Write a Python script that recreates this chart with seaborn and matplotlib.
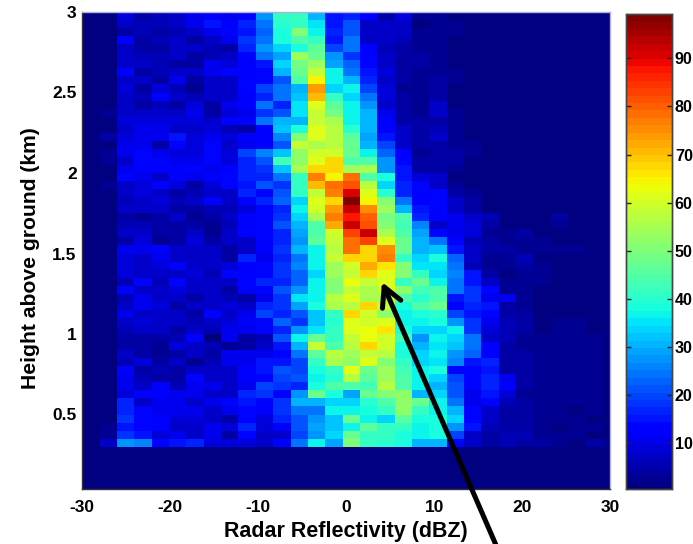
import numpy as np
import pandas as pd
import matplotlib
matplotlib.use("Agg")
import matplotlib.pyplot as plt
import seaborn as sns

x_tick_labels = [-30, -20, -10, 0, 10, 20, 30]
y_tick_labels = [0.5, 1, 1.5, 2, 2.5, 3]
colorbar_ticks = [10, 20, 30, 40, 50, 60, 70, 80, 90]
x_label = "Radar Reflectivity (dBZ)"
y_label = "Height above ground (km)"

# Occurrence values per height row (top row first, 0.05 km apart) and reflectivity column
counts = [
[1,1,9,4,6,7,11,12,11,14,28,42,42,31,15,17,12,5,9,3,3,2,1,1,1,1,1,1,1,1,1],
[1,1,7,6,6,7,10,15,12,16,24,40,41,35,15,21,7,7,8,2,3,3,1,1,1,1,1,1,1,1,1],
[1,1,4,6,5,6,7,11,14,15,23,38,51,37,16,22,7,7,7,3,3,3,1,1,1,1,1,1,1,1,1],
[1,1,12,4,6,7,4,7,11,19,25,38,45,42,15,25,8,7,6,3,3,2,1,1,1,1,1,1,1,1,1],
[1,2,8,4,5,7,7,6,4,16,27,33,39,46,20,25,12,6,5,3,3,2,2,1,1,1,1,1,1,1,1],
[1,2,8,6,6,7,5,6,8,14,24,29,54,48,27,19,14,8,4,4,3,2,2,1,1,1,1,1,1,1,1],
[1,1,8,7,6,4,4,10,9,12,15,34,49,54,29,23,14,8,4,4,3,2,2,1,1,1,1,1,1,1,1],
[1,1,12,5,6,8,8,10,13,12,13,31,47,58,36,24,15,9,5,3,3,3,2,1,1,1,1,1,1,1,1],
[1,1,7,7,5,10,5,7,7,13,13,21,45,65,37,30,17,8,4,3,4,3,2,2,1,1,1,1,1,1,1],
[1,1,9,4,9,6,3,7,8,13,20,25,31,73,33,36,20,9,3,3,5,2,2,2,1,1,1,1,1,1,1],
[1,2,8,6,12,8,6,8,8,12,17,24,32,71,42,33,25,9,4,3,5,2,2,2,1,1,1,1,1,1,1],
[1,2,7,5,6,5,9,5,10,12,24,17,35,62,46,36,28,8,4,3,7,2,2,2,1,1,1,1,1,1,1],
[1,3,7,7,8,8,10,5,9,10,19,22,35,58,49,36,30,10,4,3,7,3,2,2,1,1,1,1,1,1,1],
[1,2,9,9,9,9,9,8,12,13,24,30,31,58,56,36,31,12,5,4,5,3,2,2,1,1,1,1,1,1,1],
[1,2,8,10,11,8,7,9,6,5,13,32,38,62,57,40,30,12,7,4,6,3,2,1,1,1,1,1,1,1,1],
[1,4,9,11,10,15,9,10,9,12,12,26,51,62,57,46,29,15,8,4,7,3,2,2,1,1,1,1,1,1,1],
[1,2,10,11,5,14,9,13,7,11,12,21,58,56,57,48,31,20,8,5,5,3,3,1,1,1,1,1,1,1,1],
[1,3,10,13,10,9,9,14,9,20,26,32,52,60,60,47,37,23,12,3,5,4,3,1,1,1,1,1,1,1,1],
[1,3,7,13,13,10,10,14,9,16,21,43,52,62,67,45,44,27,14,5,4,4,2,1,1,1,1,1,1,1,1],
[1,2,10,12,12,12,13,11,12,17,19,32,56,68,68,54,55,28,15,5,4,3,2,2,1,1,1,1,1,1,1],
[1,2,13,10,8,12,11,12,13,16,17,24,42,77,65,78,45,38,15,9,7,2,2,2,1,1,1,1,1,1,1],
[1,3,8,9,12,9,5,9,14,15,21,18,42,70,78,82,57,33,16,14,7,3,2,2,2,1,1,1,1,1,1],
[1,2,7,9,7,5,6,7,8,17,13,22,42,58,77,90,62,40,16,13,13,5,3,2,2,2,1,1,1,1,1],
[1,1,6,8,9,6,7,12,8,12,17,23,33,62,67,99,65,50,25,12,14,8,4,2,1,1,1,1,1,1,1],
[1,1,7,7,8,4,4,6,6,9,13,17,36,60,73,93,75,53,31,15,14,7,5,2,2,1,1,1,1,1,1],
[1,1,5,3,4,7,3,4,7,13,14,18,33,56,77,87,80,49,44,17,12,10,7,6,1,2,1,4,1,1,1],
[1,2,6,6,5,5,4,3,6,12,13,22,30,44,72,93,82,50,43,26,7,10,9,5,2,2,1,3,1,1,1],
[1,2,8,7,5,5,7,3,7,12,13,17,29,45,60,83,93,55,44,29,13,11,9,3,3,5,2,2,2,1,1],
[1,2,5,9,3,4,9,5,7,8,13,16,27,46,58,78,83,62,47,30,24,13,6,4,3,3,3,2,2,2,1],
[1,2,10,10,12,8,7,7,5,8,12,18,30,37,57,78,68,75,47,31,32,15,7,4,4,3,3,3,3,2,1],
[1,1,9,8,11,7,8,7,5,16,10,17,25,36,58,68,68,77,42,33,38,23,8,3,3,6,2,2,2,2,1],
[1,1,9,7,9,12,8,8,9,12,13,19,26,36,54,60,72,66,50,35,35,25,6,3,3,5,3,2,2,2,1],
[1,1,9,8,8,8,9,6,13,12,13,19,23,33,54,58,67,62,51,42,33,26,15,4,2,3,3,2,2,2,1],
[1,2,6,13,6,13,7,8,8,13,17,17,23,36,50,63,58,62,42,47,36,25,15,7,3,3,3,2,2,2,1],
[1,2,12,7,8,9,7,7,4,13,14,22,27,36,50,58,56,60,52,43,45,25,18,13,3,3,2,2,2,2,1],
[1,2,6,11,8,7,5,7,6,5,11,18,35,37,57,62,55,56,45,40,44,15,19,10,10,3,2,2,2,2,1],
[1,2,7,10,9,4,7,7,9,8,16,18,29,38,55,57,67,58,38,45,47,12,17,15,5,3,2,2,2,2,1],
[1,2,11,8,8,7,5,14,8,10,20,16,21,32,42,68,60,52,36,39,40,20,15,14,5,4,2,2,2,2,1],
[1,2,8,9,8,7,6,7,9,12,14,23,19,32,40,62,60,62,37,36,38,28,18,11,6,4,2,3,3,2,1],
[1,2,6,8,7,5,8,6,11,11,13,17,28,35,42,62,63,66,38,34,33,36,18,9,6,4,2,3,3,2,1],
[1,2,5,5,4,6,12,2,10,4,6,21,37,47,42,58,63,60,43,28,36,34,24,8,6,3,3,3,3,3,2],
[1,2,5,4,3,9,7,6,3,4,7,15,31,58,45,57,68,60,38,31,35,32,25,12,4,3,3,3,3,3,2],
[1,1,8,5,3,5,7,5,10,10,11,14,25,46,57,54,58,57,38,33,37,28,23,12,5,4,3,3,3,3,2],
[1,1,6,9,5,8,3,6,10,11,15,15,20,42,56,52,62,50,42,33,35,26,15,16,5,4,3,3,3,3,2],
[1,2,12,5,6,5,8,8,8,12,15,22,20,38,42,62,47,53,43,37,38,14,14,15,5,4,3,3,3,3,2],
[1,2,11,6,4,4,14,7,7,12,14,20,21,37,40,57,46,53,44,36,34,20,13,16,10,4,3,3,3,3,2],
[1,2,10,7,12,6,11,11,8,10,20,18,16,38,44,45,43,57,44,36,31,22,14,16,12,4,3,3,3,3,2],
[1,2,9,12,12,11,10,8,8,16,18,14,27,47,38,29,48,50,52,30,33,22,11,15,9,3,3,3,3,3,2],
[1,2,17,7,10,10,8,10,14,15,13,19,30,30,33,33,40,45,52,48,36,24,10,13,6,4,3,3,3,3,2],
[1,2,16,14,11,10,10,8,10,13,12,19,25,24,36,37,39,41,52,42,36,30,14,8,5,4,3,3,2,3,2],
[1,2,19,13,13,9,9,8,4,13,9,17,22,28,32,48,37,34,46,39,38,33,13,7,5,4,3,3,3,2,2],
[1,3,15,13,12,8,7,10,9,16,9,12,22,29,32,36,46,41,41,36,39,27,15,6,5,5,3,2,3,3,2],
[1,3,18,15,9,10,8,11,4,14,7,8,20,28,33,47,41,41,38,36,38,20,8,5,6,6,3,3,3,2,2],
[1,8,28,26,13,15,16,9,9,9,8,12,24,36,29,50,42,40,39,31,30,13,7,5,6,5,4,3,2,5,3],
]
ground_rows = 6
ground_value = 1

bin_labels = list(range(-30, 32, 2))
height_labels = [round(3 - 0.05 * i, 2) for i in range(len(counts) + ground_rows)]
table = pd.DataFrame(counts + [[ground_value] * len(bin_labels)] * ground_rows,
                     index=height_labels, columns=bin_labels)

W, H = 693, 544
fig = plt.figure(figsize=(W / 100, H / 100), dpi=100, facecolor="white")
def box(l, t, r, b):
    return [l / W, 1 - b / H, (r - l) / W, (b - t) / H]
ax = fig.add_axes(box(82.3, 12, 610, 489))
cax = fig.add_axes(box(626, 14, 672, 489))

font = {"family": "Liberation Sans", "fontweight": "bold"}
sns.heatmap(table, ax=ax, cbar_ax=cax, cmap=plt.get_cmap("jet", 64), vmin=0.5, vmax=99.2,
            xticklabels=False, yticklabels=False)

col_px, row_px, km_px, dbz_px = 17.35, 8.05, 161.0, 8.795
ax.set_xlim(0, (610 - 82.3) / col_px)
ax.set_ylim((489 - 12) / row_px, 0)
ax.set_xticks([(v + 30) * dbz_px / col_px for v in x_tick_labels])
ax.set_xticklabels(x_tick_labels, fontsize=12.5, **font)
ax.set_yticks([(3 - v) * km_px / row_px for v in y_tick_labels])
ax.set_yticklabels([f"{v:g}" for v in y_tick_labels], fontsize=12.5, **font)
ax.tick_params(axis="x", direction="in", length=0, pad=8)
ax.tick_params(axis="y", direction="in", length=0, pad=4)
ax.set_xlabel(x_label, fontsize=15.5, labelpad=4.5, **font)
ax.set_ylabel(y_label, fontsize=15.2, **font)
ax.yaxis.set_label_coords(-0.08, 0.484)
for name, sp in ax.spines.items():
    sp.set_visible(True)
    sp.set_linewidth(1)
    sp.set_color("#333333" if name in ("left", "bottom") else "#b0b0e0")

cax.set_yticks(colorbar_ticks)
cax.set_yticklabels(colorbar_ticks, fontsize=11.6, **font)
cax.tick_params(axis="y", direction="in", length=3.5, width=1, left=True, right=True, pad=2, color="#222222")
for sp in cax.spines.values():
    sp.set_visible(True)
    sp.set_linewidth(1)
    sp.set_color("#444444")

# Black arrow annotation pointing at the reflectivity core
ax.annotate("", xy=(382 / W, 1 - 282 / H), xytext=(499 / W, 1 - 552 / H),
            xycoords="figure fraction", textcoords="figure fraction",
            arrowprops=dict(arrowstyle="->,head_length=0.68,head_width=0.36", mutation_scale=20,
                            lw=3.6, color="black", shrinkA=0, shrinkB=0), annotation_clip=False)

fig.savefig("out.png", dpi=100, facecolor="white")
